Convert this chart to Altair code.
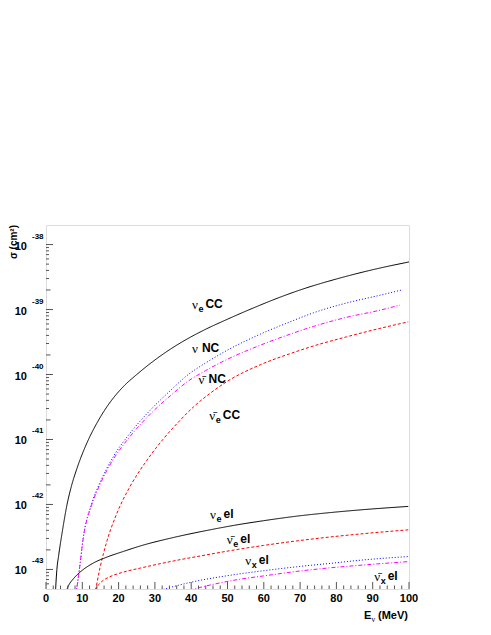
import altair as alt
import pandas as pd

# ---------------- data ----------------
E_nue_cc = [2.5, 3.0, 3.5, 4.4, 5.8, 7.0, 8.5, 11.3, 14.0, 16.8, 21.4, 25.0, 32.4, 38.8, 43.4, 50, 57, 64.5,
            70, 80, 90, 100]
S_nue_cc = [3.5e-44, 1.0e-43, 1.66e-43, 3.55e-43, 1.0e-42, 1.91e-42, 3.55e-42, 8.91e-42, 1.78e-41, 3.2e-41,
            6.6e-41, 1.0e-40, 2.09e-40, 3.5e-40, 4.79e-40, 7.1e-40, 1.05e-39, 1.55e-39, 2.0e-39, 2.95e-39,
            4.1e-39, 5.4e-39]

E_nu_nc = [8.2, 9.2, 10.3, 12.5, 14.9, 18.6, 23.2, 28.7, 34.2, 39.2, 44, 49.8, 59, 67.2, 73.7, 82.8, 92, 98]
S_nu_nc = [4.0e-44, 1.0e-43, 3.16e-43, 1.0e-42, 2.19e-42, 5.5e-42, 1.26e-41, 2.82e-41, 5.62e-41, 1.0e-40,
           1.51e-40, 2.34e-40, 4.17e-40, 6.46e-40, 8.91e-40, 1.26e-39, 1.66e-39, 2.0e-39]

E_nubar_nc = [8.2, 9.2, 10.3, 12.5, 14.9, 18.6, 23.2, 28.7, 34.2, 39.2, 44, 49.8, 59, 67.2, 73.7, 82.8, 92, 97.5]
S_nubar_nc = [4.0e-44, 1.0e-43, 3.16e-43, 9.55e-43, 2.04e-42, 5.01e-42, 1.12e-41, 2.45e-41, 4.68e-41, 7.94e-41,
              1.15e-40, 1.70e-40, 2.82e-40, 4.17e-40, 5.50e-40, 7.59e-40, 9.77e-40, 1.17e-39]

E_nuebar_cc = [13.4, 14.9, 16.8, 19.5, 23.2, 27.8, 32.2, 36.5, 40.6, 45.2, 49.8, 59, 67.2, 73.7, 82.8, 92, 99.8]
S_nuebar_cc = [4.0e-44, 1.07e-43, 2.75e-43, 7.24e-43, 1.91e-42, 4.79e-42, 1.0e-41, 1.86e-41, 3.16e-41, 5.13e-41,
               7.76e-41, 1.41e-40, 2.09e-40, 2.75e-40, 3.80e-40, 5.13e-40, 6.46e-40]

E_nue_el = [5.5, 6.2, 7.6, 9.0, 10.3, 13.1, 16.8, 21.4, 26, 35.1, 44.3, 52, 59.9, 69.1, 78.3, 87.4, 99.8]
S_nue_el = [4.5e-44, 5.62e-44, 7.24e-44, 8.71e-44, 1.0e-43, 1.26e-43, 1.55e-43, 1.9e-43, 2.3e-43, 3.1e-43,
            3.98e-43, 4.79e-43, 5.62e-43, 6.61e-43, 7.5e-43, 8.32e-43, 9.33e-43]

E_nuebar_el = [13.6, 14.3, 15.5, 17.5, 21.4, 26, 35.1, 44.3, 52, 59.9, 69.1, 78.3, 87.4, 99.8]
S_nuebar_el = [4.79e-44, 5.62e-44, 6.61e-44, 7.67e-44, 9.12e-44, 1.05e-43, 1.35e-43, 1.68e-43, 2.0e-43,
               2.34e-43, 2.75e-43, 3.16e-43, 3.55e-43, 4.07e-43]

E_nux_el = [31.5, 39.7, 50.7, 59.9, 69.1, 78.3, 87.4, 99.8]
S_nux_el = [4.79e-44, 6.31e-44, 8.13e-44, 9.55e-44, 1.10e-43, 1.24e-43, 1.40e-43, 1.58e-43]

E_nuxbar_el = [39.5, 46, 53.5, 59.9, 69.1, 78.3, 87.4, 99.8]
S_nuxbar_el = [4.79e-44, 5.89e-44, 7.08e-44, 7.94e-44, 9.33e-44, 1.06e-43, 1.17e-43, 1.32e-43]

curve_names = ["nue_cc", "nu_nc", "nubar_nc", "nuebar_cc", "nue_el", "nuebar_el", "nux_el", "nuxbar_el"]
curve_E = [E_nue_cc, E_nu_nc, E_nubar_nc, E_nuebar_cc, E_nue_el, E_nuebar_el, E_nux_el, E_nuxbar_el]
curve_S = [S_nue_cc, S_nu_nc, S_nubar_nc, S_nuebar_cc, S_nue_el, S_nuebar_el, S_nux_el, S_nuxbar_el]

# curve labels: symbol, subscript, rest, E, sigma
lab_sym = ["ν", "ν", "ν\u0304", "ν\u0304", "ν", "ν\u0304", "ν", "ν\u0304"]
lab_sub = ["e", "", "", "e", "e", "e", "x", "x"]
lab_rest = ["CC", "NC", "NC", "CC", "el", "el", "el", "el"]
lab_E = [40.2, 40.2, 42.0, 45.0, 45.2, 49.8, 54.9, 90.4]
lab_S = [1.2e-39, 2.6e-40, 8.4e-41, 2.34e-41, 7.1e-43, 2.95e-43, 1.38e-43, 7.9e-44]

x_major = [0, 10, 20, 30, 40, 50, 60, 70, 80, 90, 100]
x_major_lab = ["0", "10", "20", "30", "40", "50", "60", "70", "80", "90", "100"]
x_minor = [v for v in range(0, 101, 2) if v % 10 != 0]
y_major = [1e-38, 1e-39, 1e-40, 1e-41, 1e-42, 1e-43]
y_major_exp = ["-38", "-39", "-40", "-41", "-42", "-43"]
y_mid = [2e-39, 2e-40, 2e-41, 2e-42, 2e-43]
y_minor = [k * 10.0 ** n for n in range(-44, -38) for k in range(3, 10) if 5e-44 <= k * 10.0 ** n <= 2e-38]

# ---------------- tables ----------------
rows = []
for name, es, ss in zip(curve_names, curve_E, curve_S):
    for e, s in zip(es, ss):
        rows.append({"E": e, "sigma": s, "curve": name})
df = pd.DataFrame(rows)

lab_df = pd.DataFrame({"sym": lab_sym, "sub": lab_sub, "rest": lab_rest, "E": lab_E, "sigma": lab_S})

W, H = 363, 364
FONT = "Liberation Sans"
SERIF = "Liberation Serif"
FRAME = "#555555"

xscale = alt.Scale(domain=[0, 100], nice=False, zero=False)
yscale = alt.Scale(type="log", domain=[5e-44, 2e-38], nice=False)

colors = ["#000000", "#0000ff", "#ff00ff", "#ff0000", "#000000", "#ff0000", "#0000ff", "#ff00ff"]
dashes = [[1, 0], [1, 2], [4, 2, 1, 2], [3, 2], [1, 0], [3, 2], [1, 2], [4, 2, 1, 2]]

lines = alt.Chart(df).mark_line(clip=True, strokeWidth=1, interpolate="monotone").encode(
    x=alt.X("E:Q", scale=xscale, axis=None),
    y=alt.Y("sigma:Q", scale=yscale, axis=None),
    color=alt.Color("curve:N", scale=alt.Scale(domain=curve_names, range=colors), legend=None),
    strokeDash=alt.StrokeDash("curve:N", scale=alt.Scale(domain=curve_names, range=dashes), legend=None),
    detail="curve:N",
)

def xticks(vals, length):
    return alt.Chart(pd.DataFrame({"E": vals})).mark_rule(color=FRAME, strokeWidth=1).encode(
        x=alt.X("E:Q", scale=xscale, axis=None),
        y=alt.value(H), y2=alt.value(H - length))

def yticks(vals, length):
    return alt.Chart(pd.DataFrame({"sigma": vals})).mark_rule(color=FRAME, strokeWidth=1).encode(
        y=alt.Y("sigma:Q", scale=yscale, axis=None),
        x=alt.value(0), x2=alt.value(length))

xlab = alt.Chart(pd.DataFrame({"E": x_major, "lab": x_major_lab})).mark_text(
    font=FONT, fontSize=11, fontWeight="bold", align="center", baseline="middle", color="#000").encode(
    x=alt.X("E:Q", scale=xscale, axis=None), y=alt.value(H + 10), text="lab:N")

ylab_df = pd.DataFrame({"sigma": y_major, "exp": y_major_exp})
ylab10 = alt.Chart(ylab_df).mark_text(font=FONT, fontSize=11, fontWeight="bold", align="right",
                                      baseline="middle", dy=2, color="#000").encode(
    y=alt.Y("sigma:Q", scale=yscale, axis=None), x=alt.value(-19), text=alt.value("10"))
ylabexp = alt.Chart(ylab_df).mark_text(font=FONT, fontSize=8, fontWeight="bold", align="left",
                                       baseline="middle", dy=-8, color="#000").encode(
    y=alt.Y("sigma:Q", scale=yscale, axis=None), x=alt.value(-14), text="exp:N")

lab_sym_layer = alt.Chart(lab_df).mark_text(font=SERIF, fontSize=13, align="left", baseline="middle",
                                            dy=1, color="#000").encode(
    x=alt.X("E:Q", scale=xscale, axis=None), y=alt.Y("sigma:Q", scale=yscale, axis=None), text="sym:N")
lab_sub_layer = alt.Chart(lab_df).transform_filter("datum.sub != ''").mark_text(
    font=FONT, fontSize=9, fontWeight="bold", align="left", baseline="middle", dx=6.5, dy=5, color="#000").encode(
    x=alt.X("E:Q", scale=xscale, axis=None), y=alt.Y("sigma:Q", scale=yscale, axis=None), text="sub:N")
lab_rest_sub = alt.Chart(lab_df).transform_filter("datum.sub != ''").mark_text(
    font=FONT, fontSize=12, fontWeight="bold", align="left", baseline="middle", dx=13.5, color="#000").encode(
    x=alt.X("E:Q", scale=xscale, axis=None), y=alt.Y("sigma:Q", scale=yscale, axis=None), text="rest:N")
lab_rest_nosub = alt.Chart(lab_df).transform_filter("datum.sub == ''").mark_text(
    font=FONT, fontSize=12, fontWeight="bold", align="left", baseline="middle", dx=10, color="#000").encode(
    x=alt.X("E:Q", scale=xscale, axis=None), y=alt.Y("sigma:Q", scale=yscale, axis=None), text="rest:N")

title_df = pd.DataFrame({"t": ["σ (cm²)"]})
ytitle = alt.Chart(title_df).mark_text(font=FONT, fontSize=10, fontWeight="bold", angle=270, align="right",
                                       baseline="middle", color="#000").encode(
    x=alt.value(-32), y=alt.value(0), text="t:N")

xt_df = pd.DataFrame({"a": ["E"], "b": ["ν"], "c": ["(MeV)"]})
xtitle_a = alt.Chart(xt_df).mark_text(font=FONT, fontSize=11, fontWeight="bold", align="left",
                                      baseline="middle", color="#000").encode(
    x=alt.value(318), y=alt.value(391), text="a:N")
xtitle_b = alt.Chart(xt_df).mark_text(font=SERIF, fontSize=8, align="left",
                                      baseline="middle", color="#000").encode(
    x=alt.value(325.5), y=alt.value(395), text="b:N")
xtitle_c = alt.Chart(xt_df).mark_text(font=FONT, fontSize=11, fontWeight="bold", align="right",
                                      baseline="middle", color="#000").encode(
    x=alt.value(362), y=alt.value(391), text="c:N")

chart = alt.layer(
    lines,
    xticks(x_major, 7), xticks(x_minor, 3.5),
    yticks(y_major, 7), yticks(y_mid, 4.5), yticks(y_minor, 3),
    xlab, ylab10, ylabexp,
    lab_sym_layer, lab_sub_layer, lab_rest_sub, lab_rest_nosub,
    ytitle, xtitle_a, xtitle_b, xtitle_c,
).properties(
    width=W, height=H,
    autosize=alt.AutoSizeParams(type="none"),
    padding={"left": 38, "top": 217, "right": 74, "bottom": 38},
).configure_view(stroke=FRAME, strokeWidth=1).configure(background="white")

chart.save("out.html", embed_options={"renderer": "svg", "actions": False})
